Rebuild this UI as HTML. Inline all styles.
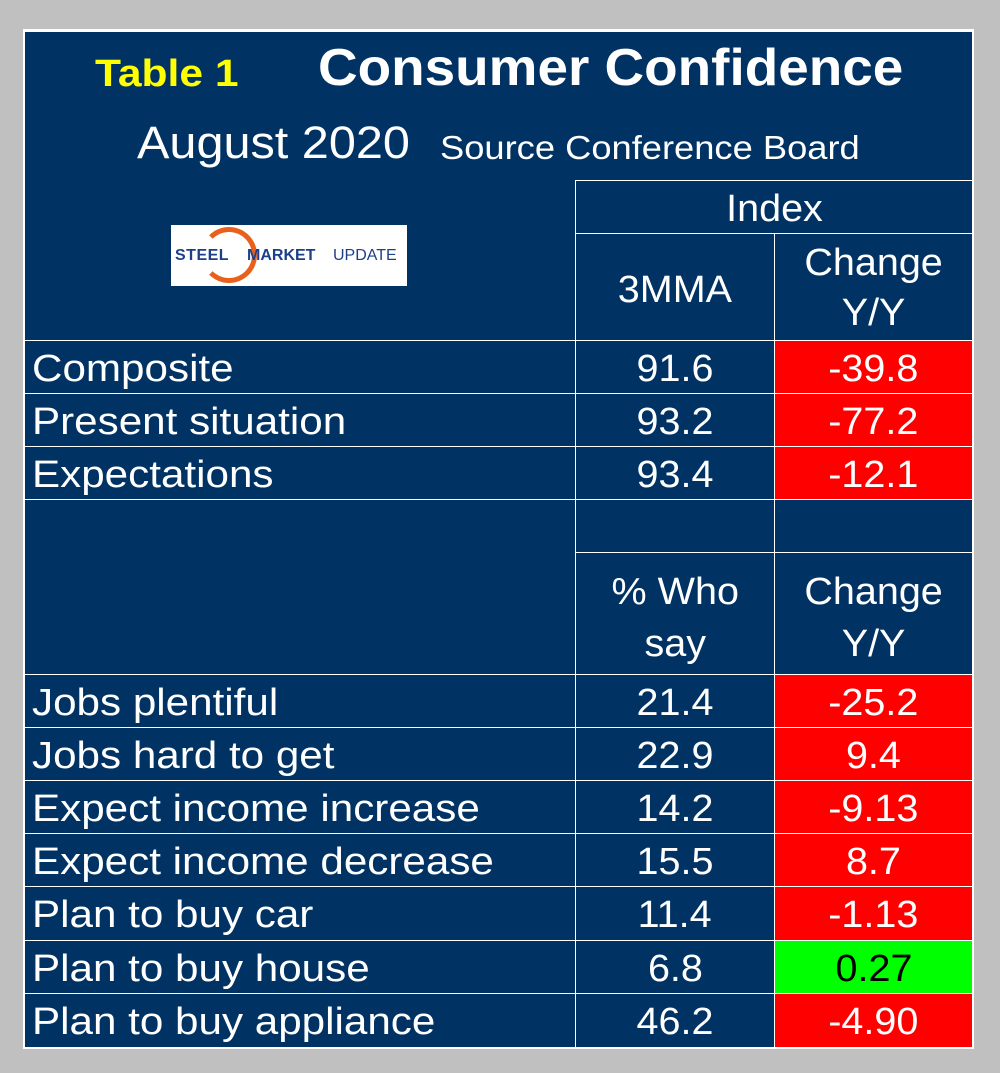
<!DOCTYPE html>
<html><head><meta charset="utf-8"><style>
body{margin:0;width:1000px;height:1073px;background:#c0c0c0;position:relative;overflow:hidden;font-family:"Liberation Sans",Arial,sans-serif;}
#panel{position:absolute;left:23px;top:29px;width:951px;height:1020px;background:#fff;}
#navy{position:absolute;left:25px;top:32px;width:947px;height:1015px;background:#003363;}
.t{position:absolute;color:#fff;white-space:nowrap;transform-origin:left center;}
.h{position:absolute;background:#fff;height:1px;}
.v{position:absolute;background:#fff;width:1px;}
.cell{position:absolute;height:52px;line-height:56px;font-size:38px;color:#fff;text-align:center;}
.cell span{display:inline-block;transform:scaleX(1.04);}
.red{background:#ff0000;}
.green{background:#00ff00;color:#000;}
.lab{position:absolute;left:32px;height:52px;line-height:56px;font-size:38px;color:#fff;white-space:nowrap;transform:scaleX(1.11);transform-origin:left center;}
</style></head><body>
<div id="panel"></div>
<div id="navy"></div>
<div class="t" style="left:95px;top:53px;font-size:38px;font-weight:bold;color:#ffff00;transform:scaleX(1.12);">Table 1</div>
<div class="t" style="left:318px;top:38px;font-size:52px;font-weight:bold;transform:scaleX(1.055);">Consumer Confidence</div>
<div class="t" style="left:137px;top:117px;font-size:45px;transform:scaleX(1.08);">August 2020</div>
<div class="t" style="left:440px;top:129px;font-size:33px;transform:scaleX(1.1);">Source Conference Board</div>
<div style="position:absolute;left:171px;top:225px;width:236px;height:61px;background:#fff;overflow:hidden;">
<div style="position:absolute;left:30px;top:2px;width:56px;height:56px;border-radius:50%;border:5px solid #e8601c;border-left-color:transparent;box-sizing:border-box;"></div>
<span style="position:absolute;left:4px;top:22px;font-size:16px;font-weight:bold;color:#1d3f8a;letter-spacing:0.5px;">STEEL</span>
<span style="position:absolute;left:76px;top:22px;font-size:16px;font-weight:bold;color:#1d3f8a;">MARKET</span>
<span style="position:absolute;left:162px;top:22px;font-size:16px;color:#1d3f8a;">UPDATE</span>
</div>
<div class="v" style="left:575px;top:180px;height:867px;"></div>
<div class="v" style="left:774px;top:233px;height:814px;"></div>
<div class="h" style="left:575px;top:180px;width:397px;"></div>
<div class="h" style="left:575px;top:233px;width:397px;"></div>
<div class="h" style="left:25px;top:340px;width:947px;"></div>
<div class="h" style="left:25px;top:393px;width:947px;"></div>
<div class="h" style="left:25px;top:446px;width:947px;"></div>
<div class="h" style="left:25px;top:499px;width:947px;"></div>
<div class="h" style="left:575px;top:552px;width:397px;"></div>
<div class="h" style="left:25px;top:674px;width:947px;"></div>
<div class="h" style="left:25px;top:727px;width:947px;"></div>
<div class="h" style="left:25px;top:780px;width:947px;"></div>
<div class="h" style="left:25px;top:833px;width:947px;"></div>
<div class="h" style="left:25px;top:886px;width:947px;"></div>
<div class="h" style="left:25px;top:940px;width:947px;"></div>
<div class="h" style="left:25px;top:993px;width:947px;"></div>
<div class="cell" style="left:576px;top:181px;width:396px;"><span>Index</span></div>
<div class="cell" style="left:576px;top:262px;width:198px;"><span>3MMA</span></div>
<div class="cell" style="left:775px;top:238px;width:197px;line-height:50px;height:100px;"><span>Change<br>Y/Y</span></div>
<div class="cell" style="left:576px;top:566px;width:198px;line-height:52px;height:104px;"><span>% Who<br>say</span></div>
<div class="cell" style="left:775px;top:566px;width:197px;line-height:52px;height:104px;"><span>Change<br>Y/Y</span></div>
<div class="lab" style="top:341px">Composite</div>
<div class="cell" style="left:576px;top:341px;width:198px"><span>91.6</span></div>
<div class="cell red" style="left:775px;top:341px;width:197px"><span>-39.8</span></div>
<div class="lab" style="top:394px">Present situation</div>
<div class="cell" style="left:576px;top:394px;width:198px"><span>93.2</span></div>
<div class="cell red" style="left:775px;top:394px;width:197px"><span>-77.2</span></div>
<div class="lab" style="top:447px">Expectations</div>
<div class="cell" style="left:576px;top:447px;width:198px"><span>93.4</span></div>
<div class="cell red" style="left:775px;top:447px;width:197px"><span>-12.1</span></div>
<div class="lab" style="top:675px">Jobs plentiful</div>
<div class="cell" style="left:576px;top:675px;width:198px"><span>21.4</span></div>
<div class="cell red" style="left:775px;top:675px;width:197px"><span>-25.2</span></div>
<div class="lab" style="top:728px">Jobs hard to get</div>
<div class="cell" style="left:576px;top:728px;width:198px"><span>22.9</span></div>
<div class="cell red" style="left:775px;top:728px;width:197px"><span>9.4</span></div>
<div class="lab" style="top:781px">Expect income increase</div>
<div class="cell" style="left:576px;top:781px;width:198px"><span>14.2</span></div>
<div class="cell red" style="left:775px;top:781px;width:197px"><span>-9.13</span></div>
<div class="lab" style="top:834px">Expect income decrease</div>
<div class="cell" style="left:576px;top:834px;width:198px"><span>15.5</span></div>
<div class="cell red" style="left:775px;top:834px;width:197px"><span>8.7</span></div>
<div class="lab" style="top:887px">Plan to buy car</div>
<div class="cell" style="left:576px;top:887px;width:198px"><span>11.4</span></div>
<div class="cell red" style="left:775px;top:887px;width:197px;height:53px"><span>-1.13</span></div>
<div class="lab" style="top:941px">Plan to buy house</div>
<div class="cell" style="left:576px;top:941px;width:198px"><span>6.8</span></div>
<div class="cell green" style="left:775px;top:941px;width:197px"><span>0.27</span></div>
<div class="lab" style="top:994px">Plan to buy appliance</div>
<div class="cell" style="left:576px;top:994px;width:198px"><span>46.2</span></div>
<div class="cell red" style="left:775px;top:994px;width:197px;height:53px"><span>-4.90</span></div>
</body></html>
